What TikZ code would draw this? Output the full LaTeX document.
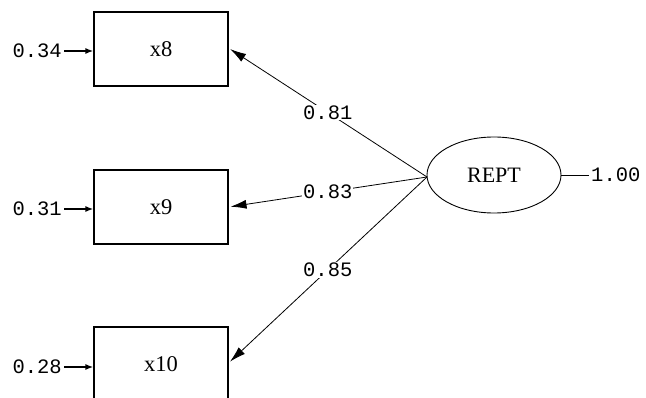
\documentclass[tikz,border=0pt]{standalone}
\usepackage{fontspec}
\newfontfamily\monofont{Liberation Mono}
\newfontfamily\boxfont{Liberation Serif}
\usetikzlibrary{shapes,arrows.meta}

\begin{document}
\begin{tikzpicture}[x=1pt,y=-1pt,
        obs/.style={draw,line width=1.1pt,minimum width=134pt,minimum height=74pt,inner sep=0pt,font=\boxfont\fontsize{22.5}{24}\selectfont},
        lat/.style={draw,ellipse,line width=0.9pt,minimum width=134pt,minimum height=76pt,inner sep=0pt,font=\boxfont\fontsize{22}{24}\selectfont},
        num/.style={inner sep=2pt,font=\monofont\fontsize{20.5}{22}\selectfont},
        load/.style={-{Latex[length=16pt,width=9pt]},line width=0.8pt,shorten >=2pt},
        err/.style={-{Latex[length=8pt,width=6pt]},line width=1.5pt},
        lab/.style={num,fill=white,inner sep=1pt}]
        \useasboundingbox (0,0) rectangle (646,398);
        % indicators
        \node[obs] (x8) at (161,49) {x8};
        \node[obs] (x9) at (161,207) {x9};
        \node[obs] (x10) at (161,364) {x10};
        % latent
        \node[lat] (rept) at (494,175) {REPT};
        \coordinate (rl) at (427,177);
        % error variances
        \node[num,anchor=east] (e8) at (64,51) {0.34};
        \node[num,anchor=east] (e9) at (64,209) {0.31};
        \node[num,anchor=east] (e10) at (64,367) {0.28};
        \node[num,anchor=west] (v) at (589,175) {1.00};
        \draw[err] (e8) -- (x8.west |- e8);
        \draw[err] (e9) -- (x9.west |- e9);
        \draw[err] (e10) -- (x10.west |- e10);
        \draw[line width=0.8pt] (rept.east) -- (v);
        % loadings
        \draw[load] (rl) -- node[lab] {0.81} ([yshift=1pt]x8.east);
        \draw[load] (rl) -- node[lab] {0.83} (x9.east);
        \draw[load] (rl) -- node[lab] {0.85} ([yshift=1pt]x10.east);
\end{tikzpicture}
\end{document}
